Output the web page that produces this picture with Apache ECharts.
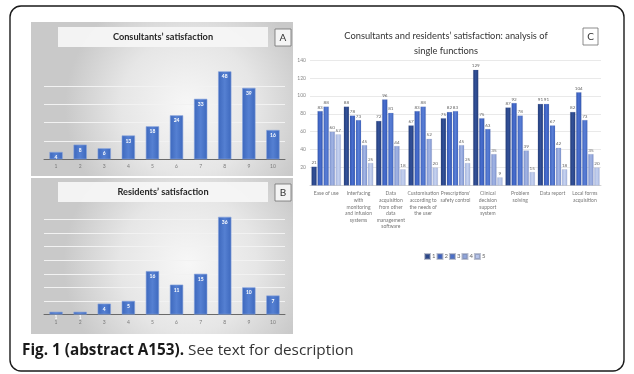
<!DOCTYPE html>
<html><head><meta charset="utf-8">
<script src="https://cdn.jsdelivr.net/npm/echarts@6/dist/echarts.min.js"></script>
<style>html,body{margin:0;padding:0;background:#fff}#c{width:634px;height:374px}</style>
</head><body><div id="c"></div>
<script>
// ---- data ----
const scoreCategories = ['1','2','3','4','5','6','7','8','9','10'];
const consultantsCounts = [4, 8, 6, 13, 18, 24, 33, 48, 39, 16];
const residentsCounts = [1, 1, 4, 5, 16, 11, 15, 36, 10, 7];
const functionCategories = [
  'Ease of use',
  'Interfacing\nwith\nmonitoring\nand infusion\nsystems',
  'Data\nacquisition\nfrom other\ndata\nmanagement\nsoftware',
  'Customisation\naccording to\nthe needs of\nthe user',
  "Prescriptions'\nsafety control",
  'Clinical\ndecision\nsupport\nsystem',
  'Problem\nsolving',
  'Data report',
  'Local forms\nacquisition'
];
const score1 = [21, 88, 72, 67, 75, 129, 87, 91, 82];
const score2 = [83, 78, 96, 83, 82, 75, 92, 91, 104];
const score3 = [88, 73, 81, 88, 83, 63, 78, 67, 73];
const score4 = [60, 45, 44, 52, 45, 35, 39, 42, 35];
const score5 = [57, 25, 18, 20, 25, 9, 15, 18, 20];
const scoreSeriesNames = ['1','2','3','4','5'];
const titleA = "Consultants\u2019 satisfaction";
const titleB = "Residents\u2019 satisfaction";
const titleC1 = "Consultants and residents\u2019 satisfaction: analysis of";
const titleC2 = "single functions";
const caption1 = "Fig. 1 (abstract A153).";
const caption2 = " See text for description";

// ---- styles ----
const FONT = 'Lato';
function grad(c1, c2) {
  return {type:'linear', x:0, y:0, x2:1, y2:0, colorStops:[
    {offset:0, color:c1},{offset:0.5, color:c2},{offset:1, color:c1}]};
}
const seriesColors = [
  grad('#203a78', '#34529a'),
  grad('#2f55b0', '#4a6fd0'),
  grad('#3e63bf', '#5a7fd6'),
  grad('#7d93cf', '#a3b5e4'),
  grad('#a6b6e0', '#c6d2ef')
];
const legendColors = ['#2b4789','#3d62c2','#4b70c9','#8fa4da','#b6c4ea'];
const barAB = {
  color: grad('#3d68bd', '#5580d2'),
  borderColor: '#86a2dc', borderWidth: 0.6
};
const labAB = {show:true, position:'insideTop', distance:3, color:'#fff', fontSize:5, fontWeight:'bold', fontFamily:FONT};

const bgGrad = {type:'radial', x:0.6, y:0.55, r:0.8, colorStops:[
  {offset:0, color:'#f7f7f7'},{offset:0.55, color:'#e6e6e6'},{offset:1, color:'#c9c9c9'}]};

const chart = echarts.init(document.getElementById('c'), null, {renderer:'canvas'});

const gridA = {left:44, right:349, top:67.7, bottom:214.7};
const gridB = {left:44, right:349, top:206, bottom:59.5};
const gridC = {left:310, right:33, top:60, bottom:188.5};

function abX(gi) {
  return {type:'category', gridIndex:gi, data:scoreCategories,
    axisLine:{lineStyle:{color:'#6a6a6a', width:1}}, axisTick:{show:false},
    axisLabel:{fontSize:5, color:'#7a7a7a', margin:5, fontFamily:FONT}};
}
function abY(gi, max, iv) {
  return {type:'value', gridIndex:gi, min:0, max:max, interval:iv,
    axisLabel:{show:false}, axisLine:{show:false}, axisTick:{show:false},
    splitLine:{show:true, showMaxLine:false, lineStyle:{color:'#f2f2f2', width:1}}};
}

const cSeries = [score1, score2, score3, score4, score5].map((d, i) => ({
  name: scoreSeriesNames[i], type:'bar', xAxisIndex:2, yAxisIndex:2, data:d,
  barGap:'15%', barCategoryGap:'9%',
  itemStyle:{color:seriesColors[i], borderColor:'rgba(120,130,160,0.5)', borderWidth:0.3},
  label:{show:true, position:'top', distance:1.5, fontSize:4.6, color:'#666', fontFamily:FONT},
  emphasis:{disabled:true}, animation:false
}));

const option = {
  animation:false,
  grid:[gridA, gridB, gridC],
  xAxis:[abX(0), abX(1), {
    type:'category', gridIndex:2, data:functionCategories,
    axisLine:{lineStyle:{color:'#d4d4d4'}}, axisTick:{show:false},
    axisLabel:{interval:0, fontSize:5, lineHeight:6.6, color:'#777', margin:5, fontFamily:FONT, verticalAlign:'top'}
  }],
  yAxis:[abY(0, 50, 10), abY(1, 40, 5), {
    type:'value', gridIndex:2, min:0, max:140, interval:20,
    axisLine:{show:false}, axisTick:{show:false},
    axisLabel:{fontSize:5, color:'#888', margin:4, fontFamily:FONT, showMinLabel:false},
    splitLine:{lineStyle:{color:'#e3e3e3', width:0.8}}
  }],
  legend:{
    data:scoreSeriesNames.map((n,i)=>({name:n, itemStyle:{color:legendColors[i]}})),
    left:419, top:248, itemWidth:5, itemHeight:5, itemGap:1,
    textStyle:{fontSize:6, color:'#666', fontFamily:FONT, width:4, padding:[0,0,0,-3]},
    icon:'rect', selectedMode:false
  },
  series:[
    {type:'bar', xAxisIndex:0, yAxisIndex:0, data:consultantsCounts, barCategoryGap:'45%',
      itemStyle:barAB, label:labAB, emphasis:{disabled:true}},
    {type:'bar', xAxisIndex:1, yAxisIndex:1, data:residentsCounts, barCategoryGap:'45%',
      itemStyle:barAB, label:labAB, emphasis:{disabled:true}},
    ...cSeries
  ],
  graphic:[
    // frame
    {type:'rect', z:-200, shape:{x:10, y:6, width:614, height:365, r:11},
      style:{fill:'#fff', stroke:'#1a1a1a', lineWidth:1.4}},
    // panel backgrounds
    {type:'rect', z:-100, shape:{x:31, y:22, width:262, height:154}, style:{fill:bgGrad}},
    {type:'rect', z:-100, shape:{x:31, y:178, width:262, height:156}, style:{fill:bgGrad}},
    // title boxes A
    {type:'rect', z:50, shape:{x:58, y:27, width:210, height:20}, style:{fill:'rgba(246,246,246,0.95)'}},
    {type:'text', z:51, style:{x:163, y:37.5, text:titleA, fontSize:9.2, fontWeight:'bold', fontFamily:FONT, fill:'#262626', align:'center', verticalAlign:'middle'}},
    {type:'rect', z:50, shape:{x:275, y:29, width:16, height:17}, style:{fill:'#f4f4f4', stroke:'#707070', lineWidth:0.8}},
    {type:'text', z:51, style:{x:283, y:37.8, text:'A', fontSize:10, fontFamily:FONT, fill:'#333', align:'center', verticalAlign:'middle'}},
    // title boxes B
    {type:'rect', z:50, shape:{x:58, y:182, width:210, height:20}, style:{fill:'rgba(246,246,246,0.95)'}},
    {type:'text', z:51, style:{x:163, y:192, text:titleB, fontSize:9.2, fontWeight:'bold', fontFamily:FONT, fill:'#262626', align:'center', verticalAlign:'middle'}},
    {type:'rect', z:50, shape:{x:275, y:184, width:16, height:17}, style:{fill:'#f4f4f4', stroke:'#707070', lineWidth:0.8}},
    {type:'text', z:51, style:{x:283, y:192.8, text:'B', fontSize:10, fontFamily:FONT, fill:'#333', align:'center', verticalAlign:'middle'}},
    // title C
    {type:'text', z:51, style:{x:446, y:36, text:titleC1, fontSize:9.3, fontFamily:FONT, fill:'#333', align:'center', verticalAlign:'middle'}},
    {type:'text', z:51, style:{x:446, y:50.5, text:titleC2, fontSize:9.3, fontFamily:FONT, fill:'#333', align:'center', verticalAlign:'middle'}},
    {type:'rect', z:50, shape:{x:583, y:28, width:15, height:17}, style:{fill:'#fff', stroke:'#707070', lineWidth:0.8}},
    {type:'text', z:51, style:{x:590.5, y:36.8, text:'C', fontSize:10, fontFamily:FONT, fill:'#333', align:'center', verticalAlign:'middle'}},
    // caption
    {type:'text', z:51, style:{x:22, y:351, verticalAlign:'middle',
      text:'{b|' + caption1 + '}{r|' + caption2 + '}',
      rich:{b:{fontSize:15.3, fontWeight:'bold', fontFamily:'Open Sans', fill:'#1a1a1a'},
            r:{fontSize:15.3, fontFamily:'Open Sans', fill:'#333'}}}}
  ]
};
chart.setOption(option);
</script></body></html>
